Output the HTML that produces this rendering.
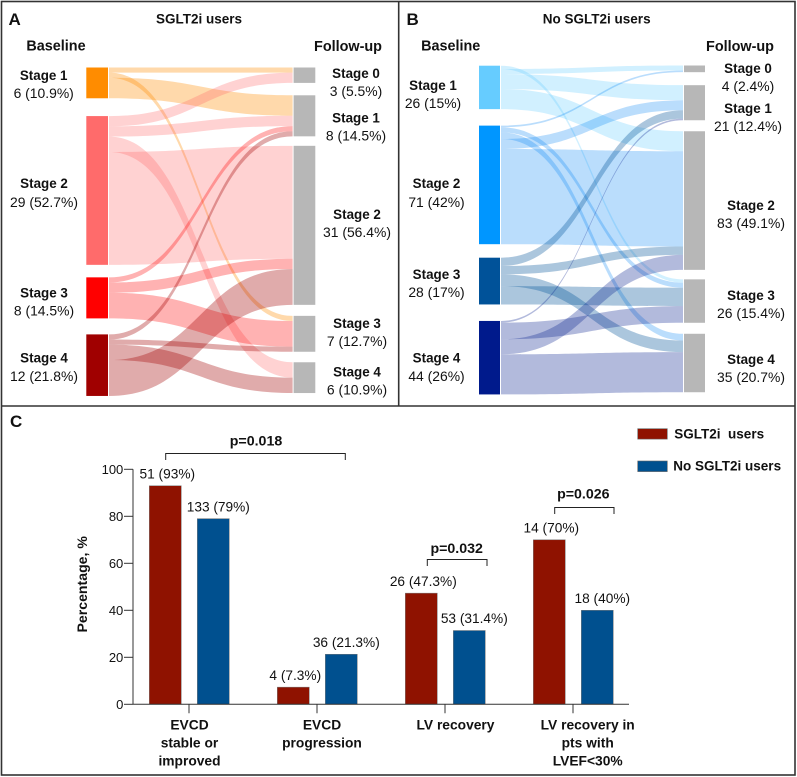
<!DOCTYPE html>
<html lang="en">
<head>
<meta charset="utf-8">
<title>SGLT2i cardiac stage transitions</title>
<style>
html,body{margin:0;padding:0;background:#fff;}
svg{display:block;}
text{font-family:"Liberation Sans",sans-serif;fill:#111;}
.h{font-weight:700;font-size:13.5px;text-anchor:middle;}
.col{font-weight:700;font-size:14.4px;text-anchor:middle;}
.st{font-weight:700;font-size:13.4px;text-anchor:middle;}
.v{font-size:13.9px;text-anchor:middle;}
.pl{font-weight:700;font-size:17px;}
.p{font-weight:700;font-size:14.2px;text-anchor:middle;}
.cat{font-weight:700;font-size:13.8px;text-anchor:middle;}
.leg{font-weight:700;font-size:13.5px;}
.br{fill:none;stroke:#222;stroke-width:1;}
</style>
</head>
<body>
<svg id="chart" width="797" height="777" viewBox="0 0 797 777" xmlns="http://www.w3.org/2000/svg">
<rect x="0" y="0" width="797" height="777" fill="#fff"/>
<g id="sankey-a"></g>
<g id="sankey-b"></g>
<g id="bars"></g>

<g fill="none" stroke="#333" stroke-width="1.6">
<rect x="1.5" y="1.5" width="793.5" height="773.5"/>
<line x1="398.7" y1="1.5" x2="398.7" y2="406"/>
<line x1="1.5" y1="406" x2="795" y2="406"/>
</g>

<text class="pl" x="8.5" y="25">A</text>
<text class="h" x="199" y="23.5">SGLT2i users</text>
<text class="col" x="56" y="50.5">Baseline</text>
<text class="col" x="348" y="51">Follow-up</text>

<text class="st" x="43.7" y="80">Stage 1</text>
<text class="v" x="43.7" y="98">6 (10.9%)</text>
<text class="st" x="44" y="188">Stage 2</text>
<text class="v" x="44" y="207">29 (52.7%)</text>
<text class="st" x="44" y="297.5">Stage 3</text>
<text class="v" x="44" y="315.5">8 (14.5%)</text>
<text class="st" x="44" y="362.5">Stage 4</text>
<text class="v" x="44" y="381">12 (21.8%)</text>

<text class="st" x="356" y="78">Stage 0</text>
<text class="v" x="356" y="96">3 (5.5%)</text>
<text class="st" x="356" y="122.5">Stage 1</text>
<text class="v" x="356" y="140.5">8 (14.5%)</text>
<text class="st" x="357" y="219">Stage 2</text>
<text class="v" x="357" y="237">31 (56.4%)</text>
<text class="st" x="357" y="328">Stage 3</text>
<text class="v" x="357" y="346">7 (12.7%)</text>
<text class="st" x="357" y="376.5">Stage 4</text>
<text class="v" x="357" y="394.5">6 (10.9%)</text>

<text class="pl" x="406.5" y="25">B</text>
<text class="h" x="596.7" y="23.5">No SGLT2i users</text>
<text class="col" x="450.7" y="50.5">Baseline</text>
<text class="col" x="740" y="51">Follow-up</text>

<text class="st" x="433" y="90">Stage 1</text>
<text class="v" x="433" y="108">26 (15%)</text>
<text class="st" x="436.5" y="188">Stage 2</text>
<text class="v" x="436.5" y="207">71 (42%)</text>
<text class="st" x="436.5" y="279">Stage 3</text>
<text class="v" x="436.5" y="297">28 (17%)</text>
<text class="st" x="436.5" y="362.5">Stage 4</text>
<text class="v" x="436.5" y="381">44 (26%)</text>

<text class="st" x="748" y="73">Stage 0</text>
<text class="v" x="748" y="91">4 (2.4%)</text>
<text class="st" x="748" y="113">Stage 1</text>
<text class="v" x="748" y="131">21 (12.4%)</text>
<text class="st" x="751" y="210">Stage 2</text>
<text class="v" x="751" y="228">83 (49.1%)</text>
<text class="st" x="751" y="300">Stage 3</text>
<text class="v" x="751" y="318">26 (15.4%)</text>
<text class="st" x="751" y="364">Stage 4</text>
<text class="v" x="751" y="382">35 (20.7%)</text>

<text class="pl" x="10" y="427">C</text>

<text class="p" x="256" y="445.7">p=0.018</text>
<polyline class="br" points="165.7,460 165.7,453.5 345.3,453.5 345.3,460"/>
<text class="p" x="456.7" y="553">p=0.032</text>
<polyline class="br" points="427.3,566 427.3,559.5 487,559.5 487,566"/>
<text class="p" x="583.3" y="498.7">p=0.026</text>
<polyline class="br" points="554.7,514 554.7,507.5 614,507.5 614,514"/>

<g>
<rect x="637.7" y="428.7" width="29.6" height="10.4" fill="#8f1200" stroke="#666" stroke-width=".6"/>
<text class="leg" x="674.3" y="438.7" xml:space="preserve">SGLT2i  users</text>
<rect x="637.7" y="461" width="29.6" height="10.6" fill="#00508f" stroke="#666" stroke-width=".6"/>
<text class="leg" x="673.3" y="470.7">No SGLT2i users</text>
</g>
</svg>

<script>
// ---------- Panel A data ----------
const stageColorsA = ['#ff8c00', '#ff6b6b', '#ff0000', '#a00000'];
const baselineCountsA = [6, 29, 8, 12];
const followupCountsA = [3, 8, 31, 7, 6];
const flowFromA = [0, 0, 0, 1, 1, 1, 1, 2, 2, 2, 3, 3, 3, 3];
const flowToA   = [0, 3, 1, 0, 1, 4, 2, 1, 2, 3, 1, 3, 4, 2];
const flowCountA = [1, 1, 4, 2, 2, 3, 22, 1, 2, 5, 1, 1, 3, 7];

// ---------- Panel B data ----------
const stageColorsB = ['#66ccff', '#0096ff', '#005299', '#001a8c'];
const linkColorsB = ['#66ccff', '#0082f5', '#005299', '#001a8c'];
const baselineCountsB = [26, 71, 28, 44];
const followupCountsB = [4, 21, 83, 26, 35];
const flowFromB = [0, 0, 0, 0, 1, 1, 1, 1, 1, 2, 2, 2, 2, 3, 3, 3, 3];
const flowToB   = [3, 0, 1, 2, 0, 3, 4, 1, 2, 1, 2, 4, 3, 1, 3, 2, 4];
const flowCountB = [2, 3, 9, 12, 1, 3, 4, 6, 57, 5, 5, 7, 11, 1, 10, 9, 24];

// ---------- Panel C data ----------
const categories = [['EVCD', 'stable or', 'improved'], ['EVCD', 'progression'], ['LV recovery'], ['LV recovery in', 'pts with', 'LVEF<30%']];
const sgltValues = [93, 7.3, 47.3, 70];
const noSgltValues = [79, 21.3, 31.4, 40];
const sgltLabels = ['51 (93%)', '4 (7.3%)', '26 (47.3%)', '14 (70%)'];
const noSgltLabels = ['133 (79%)', '36 (21.3%)', '53 (31.4%)', '18 (40%)'];
const yTicks = [0, 20, 40, 60, 80, 100];

const NS = 'http://www.w3.org/2000/svg';
function make(parent, tag, attrs, content) {
  const el = document.createElementNS(NS, tag);
  for (const k in attrs) el.setAttribute(k, attrs[k]);
  if (content !== undefined) el.textContent = content;
  parent.appendChild(el);
  return el;
}

function stack(counts, scale, top, gaps) {
  let y = top;
  return counts.map(function (c, i) {
    const node = { y: y, h: c * scale };
    y += node.h + (gaps[i] || 0);
    return node;
  });
}

function drawSankey(root, cfg) {
  const left = stack(cfg.baseline, cfg.scale, cfg.topL, cfg.gapsL);
  const right = stack(cfg.followup, cfg.scale, cfg.topR, cfg.gapsR);
  const usedL = left.map(function (n) { return n.y; });
  const usedR = right.map(function (n) { return n.y; });
  const x0 = cfg.xL + cfg.nodeW + 1;
  const x1 = cfg.xR - 1;
  const mid = (x0 + x1) / 2;

  // source side follows flow order; target side stacks by source stage
  const startY = cfg.from.map(function (s, i) {
    const y = usedL[s];
    usedL[s] += cfg.count[i] * cfg.scale;
    return y;
  });
  const order = cfg.from.map(function (_, i) { return i; }).sort(function (a, b) {
    return cfg.from[a] - cfg.from[b];
  });
  const endY = [];
  order.forEach(function (i) {
    const t = cfg.to[i];
    endY[i] = usedR[t];
    usedR[t] += cfg.count[i] * cfg.scale;
  });

  cfg.from.forEach(function (s, i) {
    const h = cfg.count[i] * cfg.scale;
    const a = startY[i], b = endY[i];
    const d = 'M' + x0 + ' ' + a + 'C' + mid + ' ' + a + ' ' + mid + ' ' + b + ' ' + x1 + ' ' + b +
      'V' + (b + h) + 'C' + mid + ' ' + (b + h) + ' ' + mid + ' ' + (a + h) + ' ' + x0 + ' ' + (a + h) + 'Z';
    const link = make(root, 'path', { d: d, fill: cfg.linkColors[s], 'fill-opacity': cfg.alpha[s] });
    
    
  });

  left.forEach(function (n, i) {
    const node = make(root, 'rect', { x: cfg.xL, y: n.y, width: cfg.nodeW, height: n.h, fill: cfg.colors[i] });
    
    
  });
  right.forEach(function (n, i) {
    const node = make(root, 'rect', { x: cfg.xR, y: n.y, width: cfg.nodeW, height: n.h, fill: '#b7b7b7' });
    
    
  });
}

drawSankey(document.getElementById('sankey-a'), {
  prefix: 'a', baseline: baselineCountsA, followup: followupCountsA,
  from: flowFromA, to: flowToA, count: flowCountA, colors: stageColorsA, linkColors: stageColorsA,
  alpha: [0.33, 0.3, 0.3, 0.33], scale: 5.13, xL: 86.3, xR: 293.6, nodeW: 21.7,
  topL: 67.5, topR: 67.5, gapsL: [17.8, 12.5, 16], gapsR: [12.4, 9.5, 11, 10.5]
});
drawSankey(document.getElementById('sankey-b'), {
  prefix: 'b', baseline: baselineCountsB, followup: followupCountsB,
  from: flowFromB, to: flowToB, count: flowCountB, colors: stageColorsB, linkColors: linkColorsB,
  alpha: [0.3, 0.27, 0.33, 0.3], scale: 1.67, xL: 479, xR: 684, nodeW: 21,
  topL: 65.7, topR: 65.5, gapsL: [16.5, 13.5, 16.5], gapsR: [13, 11, 9.5, 11]
});

// ---------- Bar chart ----------
const plotX = 133, plotRight = 629, y0 = 704.3, pxPerUnit = 2.35;
const groupStart = 149.3, groupStep = 128, barW = 32, barGap = 16;
function yScale(v) { return y0 - v * pxPerUnit; }
function xBar(cat, series) { return groupStart + cat * groupStep + series * (barW + barGap); }
function xCenter(cat) { return xBar(cat, 0) + barW + barGap / 2 - 0.3; }

const bars = document.getElementById('bars');
function drawSeries(values, labels, color, slug, seriesIndex, labelShift) {
  values.forEach(function (v, i) {
    const bar = make(bars, 'rect', {
      x: xBar(i, seriesIndex), y: yScale(v), width: barW, height: y0 - yScale(v),
      fill: color, stroke: '#777', 'stroke-width': 0.5
    });
    
    
    const lab = make(bars, 'text', {
      x: xBar(i, seriesIndex) + barW / 2 + labelShift, y: yScale(v) - 7.3,
      'font-size': 13.7, 'text-anchor': 'middle'
    }, labels[i]);
    
    
  });
}
drawSeries(sgltValues, sgltLabels, '#8f1200', 'sglt2i', 0, 2);
drawSeries(noSgltValues, noSgltLabels, '#00508f', 'no-sglt2i', 1, 5);

const yAxisLine = make(bars, 'line', { x1: plotX, y1: yScale(100), x2: plotX, y2: y0, stroke: '#333', 'stroke-width': 1 });


const xAxisLine = make(bars, 'line', { x1: plotX, y1: y0, x2: plotRight, y2: y0, stroke: '#333', 'stroke-width': 1 });



yTicks.forEach(function (t) {
  const tick = make(bars, 'line', { x1: plotX - 9, y1: yScale(t), x2: plotX, y2: yScale(t), stroke: '#333', 'stroke-width': 1 });
  
  
  const lab = make(bars, 'text', { x: 123.3, y: yScale(t) + 4.8, 'font-size': 13, 'text-anchor': 'end' }, String(t));
  
  
});

categories.forEach(function (lines, i) {
  const c = xCenter(i);
  const tick = make(bars, 'line', { x1: c, y1: y0, x2: c, y2: y0 + 9, stroke: '#333', 'stroke-width': 1 });
  
  
  const shift = i === 0 ? 0.5 : (i === 1 ? 5 : (i === 2 ? 10.5 : 14.7));
  lines.forEach(function (line, j) {
    const lab = make(bars, 'text', { class: 'cat', x: c + shift, y: 729.3 + j * 18 }, line);
    
    
  });
});

const yTitle = make(bars, 'text', {
  x: 0, y: 0, transform: 'translate(87,584.3) rotate(-90)',
  'font-size': 14.1, 'font-weight': 700, 'text-anchor': 'middle'
}, 'Percentage, %');


</script>
</body>
</html>
